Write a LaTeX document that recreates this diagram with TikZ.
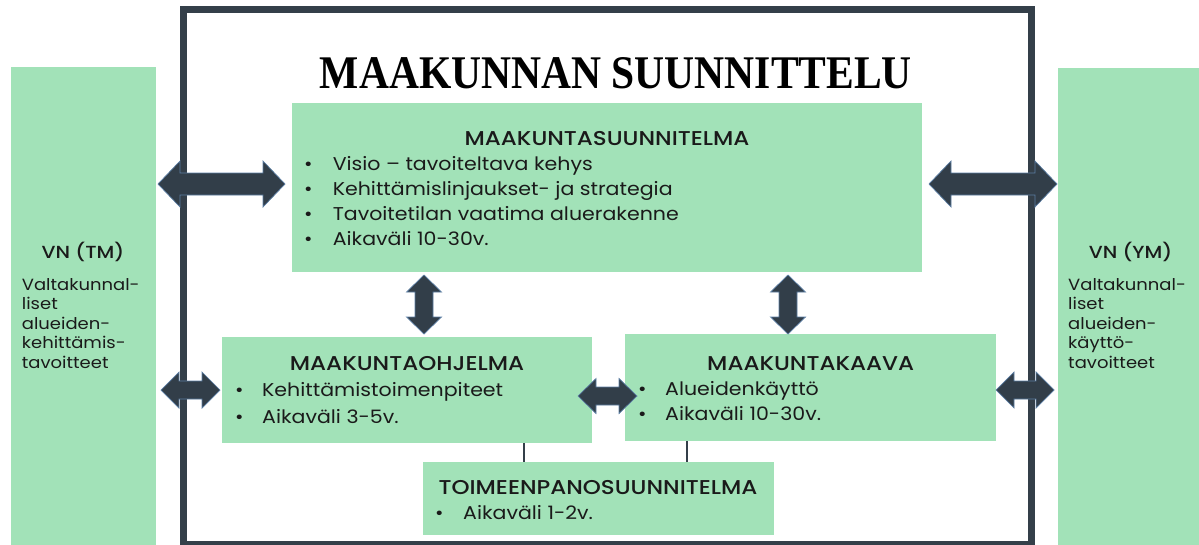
\documentclass[tikz,border=0pt]{standalone}
\usepackage{fontspec}
\setmainfont{Poppins}[FakeStretch=1.11]
\newfontfamily\medfont{Poppins Medium}[FakeStretch=1.15]
\newfontfamily\titlefont{Liberation Serif}
\definecolor{boxgreen}{HTML}{A2E2B8}
\definecolor{framec}{HTML}{343F49}
\definecolor{arrowc}{HTML}{323E49}
\definecolor{arrowedge}{HTML}{5A7DA3}
\definecolor{textc}{HTML}{1A1A1A}
\newcommand{\hdblarrow}[6]{% x1 x2 y shafthalf headhalf headlen
  \filldraw[bigarrow] (#1,#3) -- ({#1+#6},{#3-#5}) -- ({#1+#6},{#3-#4}) -- ({#2-#6},{#3-#4}) -- ({#2-#6},{#3-#5}) -- (#2,#3) -- ({#2-#6},{#3+#5}) -- ({#2-#6},{#3+#4}) -- ({#1+#6},{#3+#4}) -- ({#1+#6},{#3+#5}) -- cycle;}
\newcommand{\vdblarrow}[6]{% y1 y2 x shafthalf headhalf headlen
  \filldraw[bigarrow] (#3,#1) -- ({#3-#5},{#1+#6}) -- ({#3-#4},{#1+#6}) -- ({#3-#4},{#2-#6}) -- ({#3-#5},{#2-#6}) -- (#3,#2) -- ({#3+#5},{#2-#6}) -- ({#3+#4},{#2-#6}) -- ({#3+#4},{#1+#6}) -- ({#3+#5},{#1+#6}) -- cycle;}
\begin{document}
\begin{tikzpicture}[x=1pt,y=-1pt,
  panel/.style={fill=boxgreen, draw=none, inner sep=0, anchor=north west},
  bigarrow/.style={fill=arrowc, draw=arrowedge, line width=0.7pt, line join=miter},
  conn/.style={draw=framec, line width=1.6pt},
  body/.style={font=\fontsize{18.5}{22}\selectfont, text=textc, inner sep=0, anchor=base west},
  side/.style={font=\fontsize{16.2}{20}\selectfont, text=textc, inner sep=0, anchor=base west},
  head/.style={font=\medfont\fontsize{20}{24}\selectfont, text=textc, inner sep=0, anchor=base},
  sidehead/.style={font=\medfont\fontsize{17.5}{22}\selectfont, text=textc, inner sep=0, anchor=base}]
\useasboundingbox (0,0) rectangle (1199,544);
% side panels
\node[panel, minimum width=145pt, minimum height=480pt] (vnl) at (11,67) {};
\node[panel, minimum width=145pt, minimum height=480pt] (vnr) at (1058,68) {};
% frame
\draw[framec, line width=7pt] (183.5,9.5) rectangle (1031.5,544);
% title
\node[inner sep=0, anchor=base] (title) at (616,88) {\resizebox{592pt}{31pt}{\titlefont\bfseries MAAKUNNAN SUUNNITTELU}};
% boxes
\node[panel, minimum width=630pt, minimum height=169pt] (mks) at (292,103) {};
\node[panel, minimum width=370pt, minimum height=106pt] (ohj) at (222,337) {};
\node[panel, minimum width=371pt, minimum height=107pt] (kaava) at (625,334) {};
\node[panel, minimum width=351pt, minimum height=73pt] (toim) at (423,462) {};
% connectors
\draw[conn] (ohj.south -| 524,0) -- (toim.north -| 524,0);
\draw[conn] (kaava.south -| 687,0) -- (toim.north -| 687,0);
% arrows
\hdblarrow{158}{285}{184}{11}{23}{22}
\hdblarrow{929}{1057}{184}{11}{23}{22}
\hdblarrow{161}{220}{390}{9}{18}{18}
\hdblarrow{996}{1054}{390}{9}{18}{18}
\hdblarrow{578}{637}{396}{9}{17.5}{18}
\vdblarrow{275}{334}{424}{9}{17.5}{17}
\vdblarrow{275}{334}{788}{9}{17.5}{17}
% top box text
\node[head] (mksh) at (607,145.7) {MAAKUNTASUUNNITELMA};
\node[body] (mks1) at (304,170) {\makebox[28.6pt][l]{•}Visio – tavoiteltava kehys};
\node[body] (mks2) at (304,195) {\makebox[28.6pt][l]{•}Kehittämislinjaukset- ja strategia};
\node[body] (mks3) at (304,220) {\makebox[28.6pt][l]{•}Tavoitetilan vaatima aluerakenne};
\node[body] (mks4) at (304,245) {\makebox[28.6pt][l]{•}Aikaväli 10-30v.};
% ohjelma text
\node[head] (ohjh) at (407,370.7) {MAAKUNTAOHJELMA};
\node[body] (ohj1) at (235,396) {\makebox[27pt][l]{•}Kehittämistoimenpiteet};
\node[body] (ohj2) at (235,423.3) {\makebox[27pt][l]{•}Aikaväli 3-5v.};
% kaava text
\node[head] (kaavah) at (810.7,370.7) {MAAKUNTAKAAVA};
\node[body] (kaava1) at (638,395) {\makebox[27pt][l]{•}Alueidenkäyttö};
\node[body] (kaava2) at (638,420) {\makebox[27pt][l]{•}Aikaväli 10-30v.};
% toimeenpano text
\node[head] (toimh) at (598,494) {TOIMEENPANOSUUNNITELMA};
\node[body] (toim1) at (435,519) {\makebox[28pt][l]{•}Aikaväli 1-2v.};
% side panel text
\node[sidehead] (vnlh) at (83,258.3) {VN (TM)};
\node[side] (vnl1) at (21.7,290) {Valtakunnal-};
\node[side] (vnl2) at (21.7,309.5) {liset};
\node[side] (vnl3) at (21.7,329) {alueiden-};
\node[side] (vnl4) at (21.7,348.5) {kehittämis-};
\node[side] (vnl5) at (21.7,368) {tavoitteet};
\node[sidehead] (vnrh) at (1130.5,258.3) {VN (YM)};
\node[side] (vnr1) at (1068,290) {Valtakunnal-};
\node[side] (vnr2) at (1068,309.5) {liset};
\node[side] (vnr3) at (1068,329) {alueiden-};
\node[side] (vnr4) at (1068,348.5) {käyttö-};
\node[side] (vnr5) at (1068,368) {tavoitteet};
\end{tikzpicture}
\end{document}
